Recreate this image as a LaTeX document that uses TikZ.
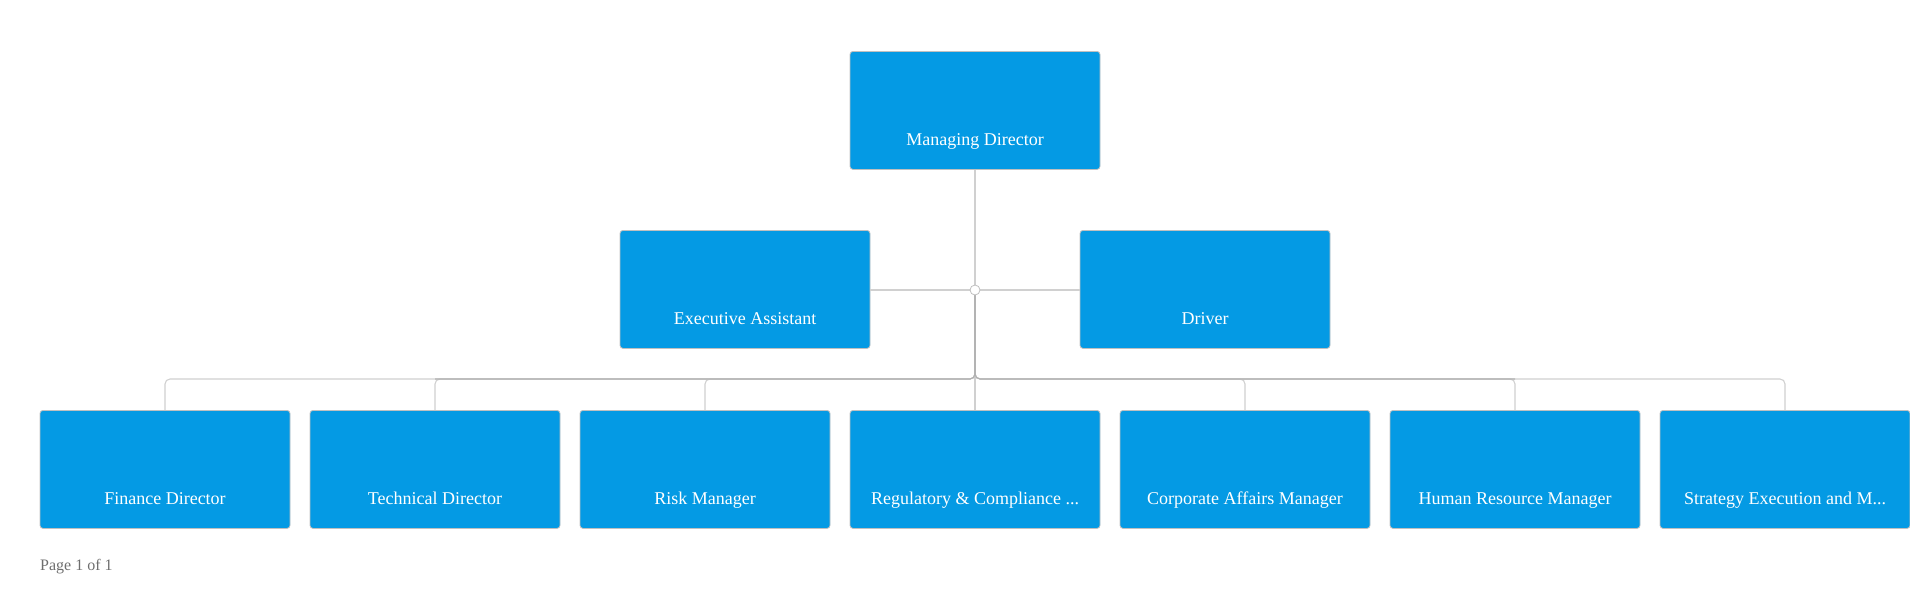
\documentclass[tikz,border=0pt]{standalone}
\usepackage{fontspec}
\setmainfont{Liberation Serif}
\definecolor{boxblue}{RGB}{4,154,228}
\definecolor{boxline}{RGB}{192,192,192}
\definecolor{linelight}{RGB}{208,208,208}
\definecolor{linedark}{RGB}{176,176,176}
\definecolor{pagegray}{RGB}{110,110,110}
\tikzset{
  orgbox/.style={draw=boxline, line width=0.8pt, fill=boxblue, rounded corners=3pt,
    minimum width=250pt, minimum height=118pt, inner sep=0pt, anchor=north},
  orgtext/.style={text=white, font=\fontsize{18pt}{20pt}\selectfont, anchor=base, inner sep=0pt},
  conn/.style={draw=linelight, line width=1.1pt, rounded corners=5pt},
  trunk/.style={draw=linedark, line width=1.1pt, rounded corners=5pt},
  hub/.style={circle, draw=boxline, fill=white, line width=0.8pt, minimum size=10pt, inner sep=0pt}
}
\begin{document}
\begin{tikzpicture}[x=1pt,y=-1pt]
\useasboundingbox (0,0) rectangle (1910,600);
% boxes
\node[orgbox] (md) at (975,51) {};
\node[orgtext] (mdT) at ([yshift=24pt]md.south) {Managing Director};
\node[orgbox] (ea) at (745,230) {};
\node[orgtext] (eaT) at ([yshift=24pt]ea.south) {Executive Assistant};
\node[orgbox] (dr) at (1205,230) {};
\node[orgtext] (drT) at ([yshift=24pt]dr.south) {Driver};
\node[orgbox] (c1) at (165,410) {};
\node[orgtext] (c1T) at ([yshift=24pt]c1.south) {Finance Director};
\node[orgbox] (c2) at (435,410) {};
\node[orgtext] (c2T) at ([yshift=24pt]c2.south) {Technical Director};
\node[orgbox] (c3) at (705,410) {};
\node[orgtext] (c3T) at ([yshift=24pt]c3.south) {Risk Manager};
\node[orgbox] (c4) at (975,410) {};
\node[orgtext] (c4T) at ([yshift=24pt]c4.south) {Regulatory \& Compliance ...};
\node[orgbox] (c5) at (1245,410) {};
\node[orgtext] (c5T) at ([yshift=24pt]c5.south) {Corporate Affairs Manager};
\node[orgbox] (c6) at (1515,410) {};
\node[orgtext] (c6T) at ([yshift=24pt]c6.south) {Human Resource Manager};
\node[orgbox] (c7) at (1785,410) {};
\node[orgtext] (c7T) at ([yshift=24pt]c7.south) {Strategy Execution and M...};
% hub
\coordinate (hubc) at (975,290);
\coordinate (bus) at (975,379);
% connectors
\draw[conn] (md.south) -- (hubc);
\draw[conn] (ea.east |- hubc) -- (hubc);
\draw[conn] (hubc) -- (dr.west |- hubc);
\foreach \c in {c1,c2,c3,c4,c5,c6,c7}{
  \draw[conn] (hubc) -- (bus) -| (\c.north);
}
\draw[trunk] (hubc) -- (bus) -- (c2.north |- bus);
\draw[trunk] (hubc) -- (bus) -- (c6.north |- bus);
\node[hub] (hub) at (hubc) {};
% page footer
\node[anchor=base west, inner sep=0pt, text=pagegray, font=\fontsize{16pt}{18pt}\selectfont] (page) at (40,570) {Page 1 of 1};
\end{tikzpicture}
\end{document}
